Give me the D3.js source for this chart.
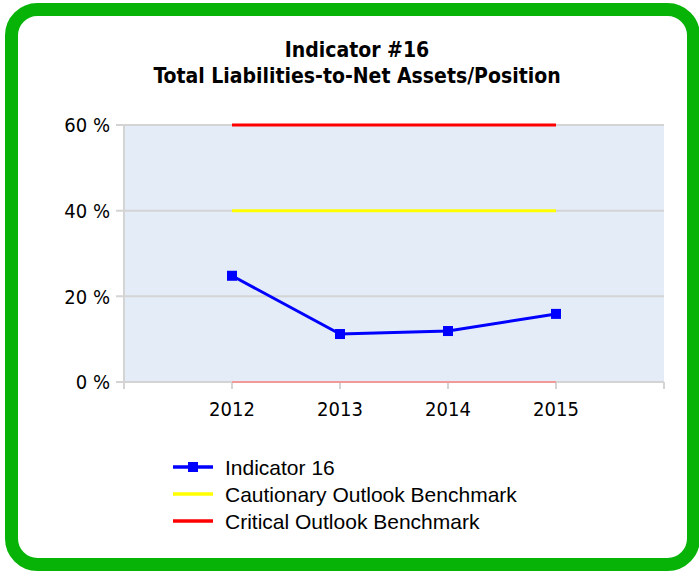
<!DOCTYPE html>
<html>
<head>
<meta charset="utf-8">
<script src="https://cdn.jsdelivr.net/npm/d3@7"></script>
<style>
  body { margin: 0; background: #fff; }
</style>
</head>
<body>
<div id="chart"></div>
<script>
const years = [2012, 2013, 2014, 2015];
const indicator = [24.8, 11.2, 11.9, 15.9];
const cautionary = [40, 40, 40, 40];
const critical = [60, 60, 60, 60];
const zeroLine = [0, 0, 0, 0];
const yTicks = [0, 20, 40, 60];
const titleLines = ["Indicator #16", "Total Liabilities-to-Net Assets/Position"];
const legendItems = [
  { name: "Indicator 16", color: "#0000ff", marker: true },
  { name: "Cautionary Outlook Benchmark", color: "#ffff00", marker: false },
  { name: "Critical Outlook Benchmark", color: "#ff0000", marker: false }
];

const width = 699, height = 571;
const plot = { left: 124, right: 664, top: 125, bottom: 382 };
const axisFont = "20px 'DejaVu Sans Condensed', 'DejaVu Sans', sans-serif";

const svg = d3.select("#chart").append("svg")
  .attr("width", width)
  .attr("height", height);

// green frame
svg.append("rect")
  .attr("x", 11.5).attr("y", 9.5)
  .attr("width", 682).attr("height", 555)
  .attr("rx", 26)
  .attr("fill", "#fff")
  .attr("stroke", "#06b306")
  .attr("stroke-width", 13);

// title
svg.append("g")
  .selectAll("text")
  .data(titleLines)
  .join("text")
  .attr("x", 357)
  .attr("y", (d, i) => 57 + i * 26)
  .attr("text-anchor", "middle")
  .style("font", "bold 21px 'DejaVu Sans Condensed', 'DejaVu Sans', sans-serif")
  .text(d => d);

const x = d3.scaleLinear([2011, 2016], [plot.left, plot.right]);
const y = d3.scaleLinear([0, 60], [plot.bottom, plot.top]);

svg.append("rect")
  .attr("x", plot.left).attr("y", plot.top)
  .attr("width", plot.right - plot.left)
  .attr("height", plot.bottom - plot.top)
  .attr("fill", "#e4ecf8");

// grid lines + y labels
const yg = svg.append("g");
yg.selectAll("line")
  .data(yTicks)
  .join("line")
  .attr("x1", plot.left - 8).attr("x2", plot.right)
  .attr("y1", d => y(d)).attr("y2", d => y(d))
  .attr("stroke", "#d4d4d4")
  .attr("stroke-width", 2);
yg.selectAll("text")
  .data(yTicks)
  .join("text")
  .attr("x", 110)
  .attr("y", d => y(d))
  .attr("dy", "0.36em")
  .attr("text-anchor", "end")
  .style("font", axisFont)
  .text(d => d + " %");

// y axis line
svg.append("line")
  .attr("x1", plot.left).attr("x2", plot.left)
  .attr("y1", plot.top).attr("y2", plot.bottom + 7)
  .attr("stroke", "#d4d4d4").attr("stroke-width", 2);

// x ticks
const xTickYears = d3.range(2011, 2017);
svg.append("g").selectAll("line")
  .data(xTickYears)
  .join("line")
  .attr("x1", d => x(d)).attr("x2", d => x(d))
  .attr("y1", plot.bottom).attr("y2", plot.bottom + 7)
  .attr("stroke", "#d4d4d4").attr("stroke-width", 2);

svg.append("g").selectAll("text")
  .data(years)
  .join("text")
  .attr("x", d => x(d))
  .attr("y", 416)
  .attr("text-anchor", "middle")
  .style("font", axisFont)
  .text(d => d);

const line = d3.line().x((d, i) => x(years[i])).y(d => y(d));

svg.append("path").datum(zeroLine)
  .attr("d", line).attr("fill", "none")
  .attr("stroke", "#f29a9a").attr("stroke-width", 2);
svg.append("path").datum(cautionary)
  .attr("d", line).attr("fill", "none")
  .attr("stroke", "#ffff00").attr("stroke-width", 3);
svg.append("path").datum(critical)
  .attr("d", line).attr("fill", "none")
  .attr("stroke", "#ff0000").attr("stroke-width", 3);
svg.append("path").datum(indicator)
  .attr("d", line).attr("fill", "none")
  .attr("stroke", "#0000ff").attr("stroke-width", 3);
svg.append("g").selectAll("rect")
  .data(indicator)
  .join("rect")
  .attr("x", (d, i) => x(years[i]) - 5)
  .attr("y", d => y(d) - 5)
  .attr("width", 10).attr("height", 10)
  .attr("fill", "#0000ff");

// legend
const lg = svg.append("g").selectAll("g")
  .data(legendItems)
  .join("g")
  .attr("transform", (d, i) => `translate(173,${467 + i * 27})`);
lg.append("line")
  .attr("x1", 0).attr("x2", 40)
  .attr("stroke", d => d.color).attr("stroke-width", 3.5);
lg.filter(d => d.marker).append("rect")
  .attr("x", 15).attr("y", -5).attr("width", 10).attr("height", 10)
  .attr("fill", d => d.color);
lg.append("text")
  .attr("x", 52)
  .attr("dy", "0.36em")
  .style("font", "21px 'Liberation Sans', Arial, sans-serif")
  .text(d => d.name);
</script>
</body>
</html>
